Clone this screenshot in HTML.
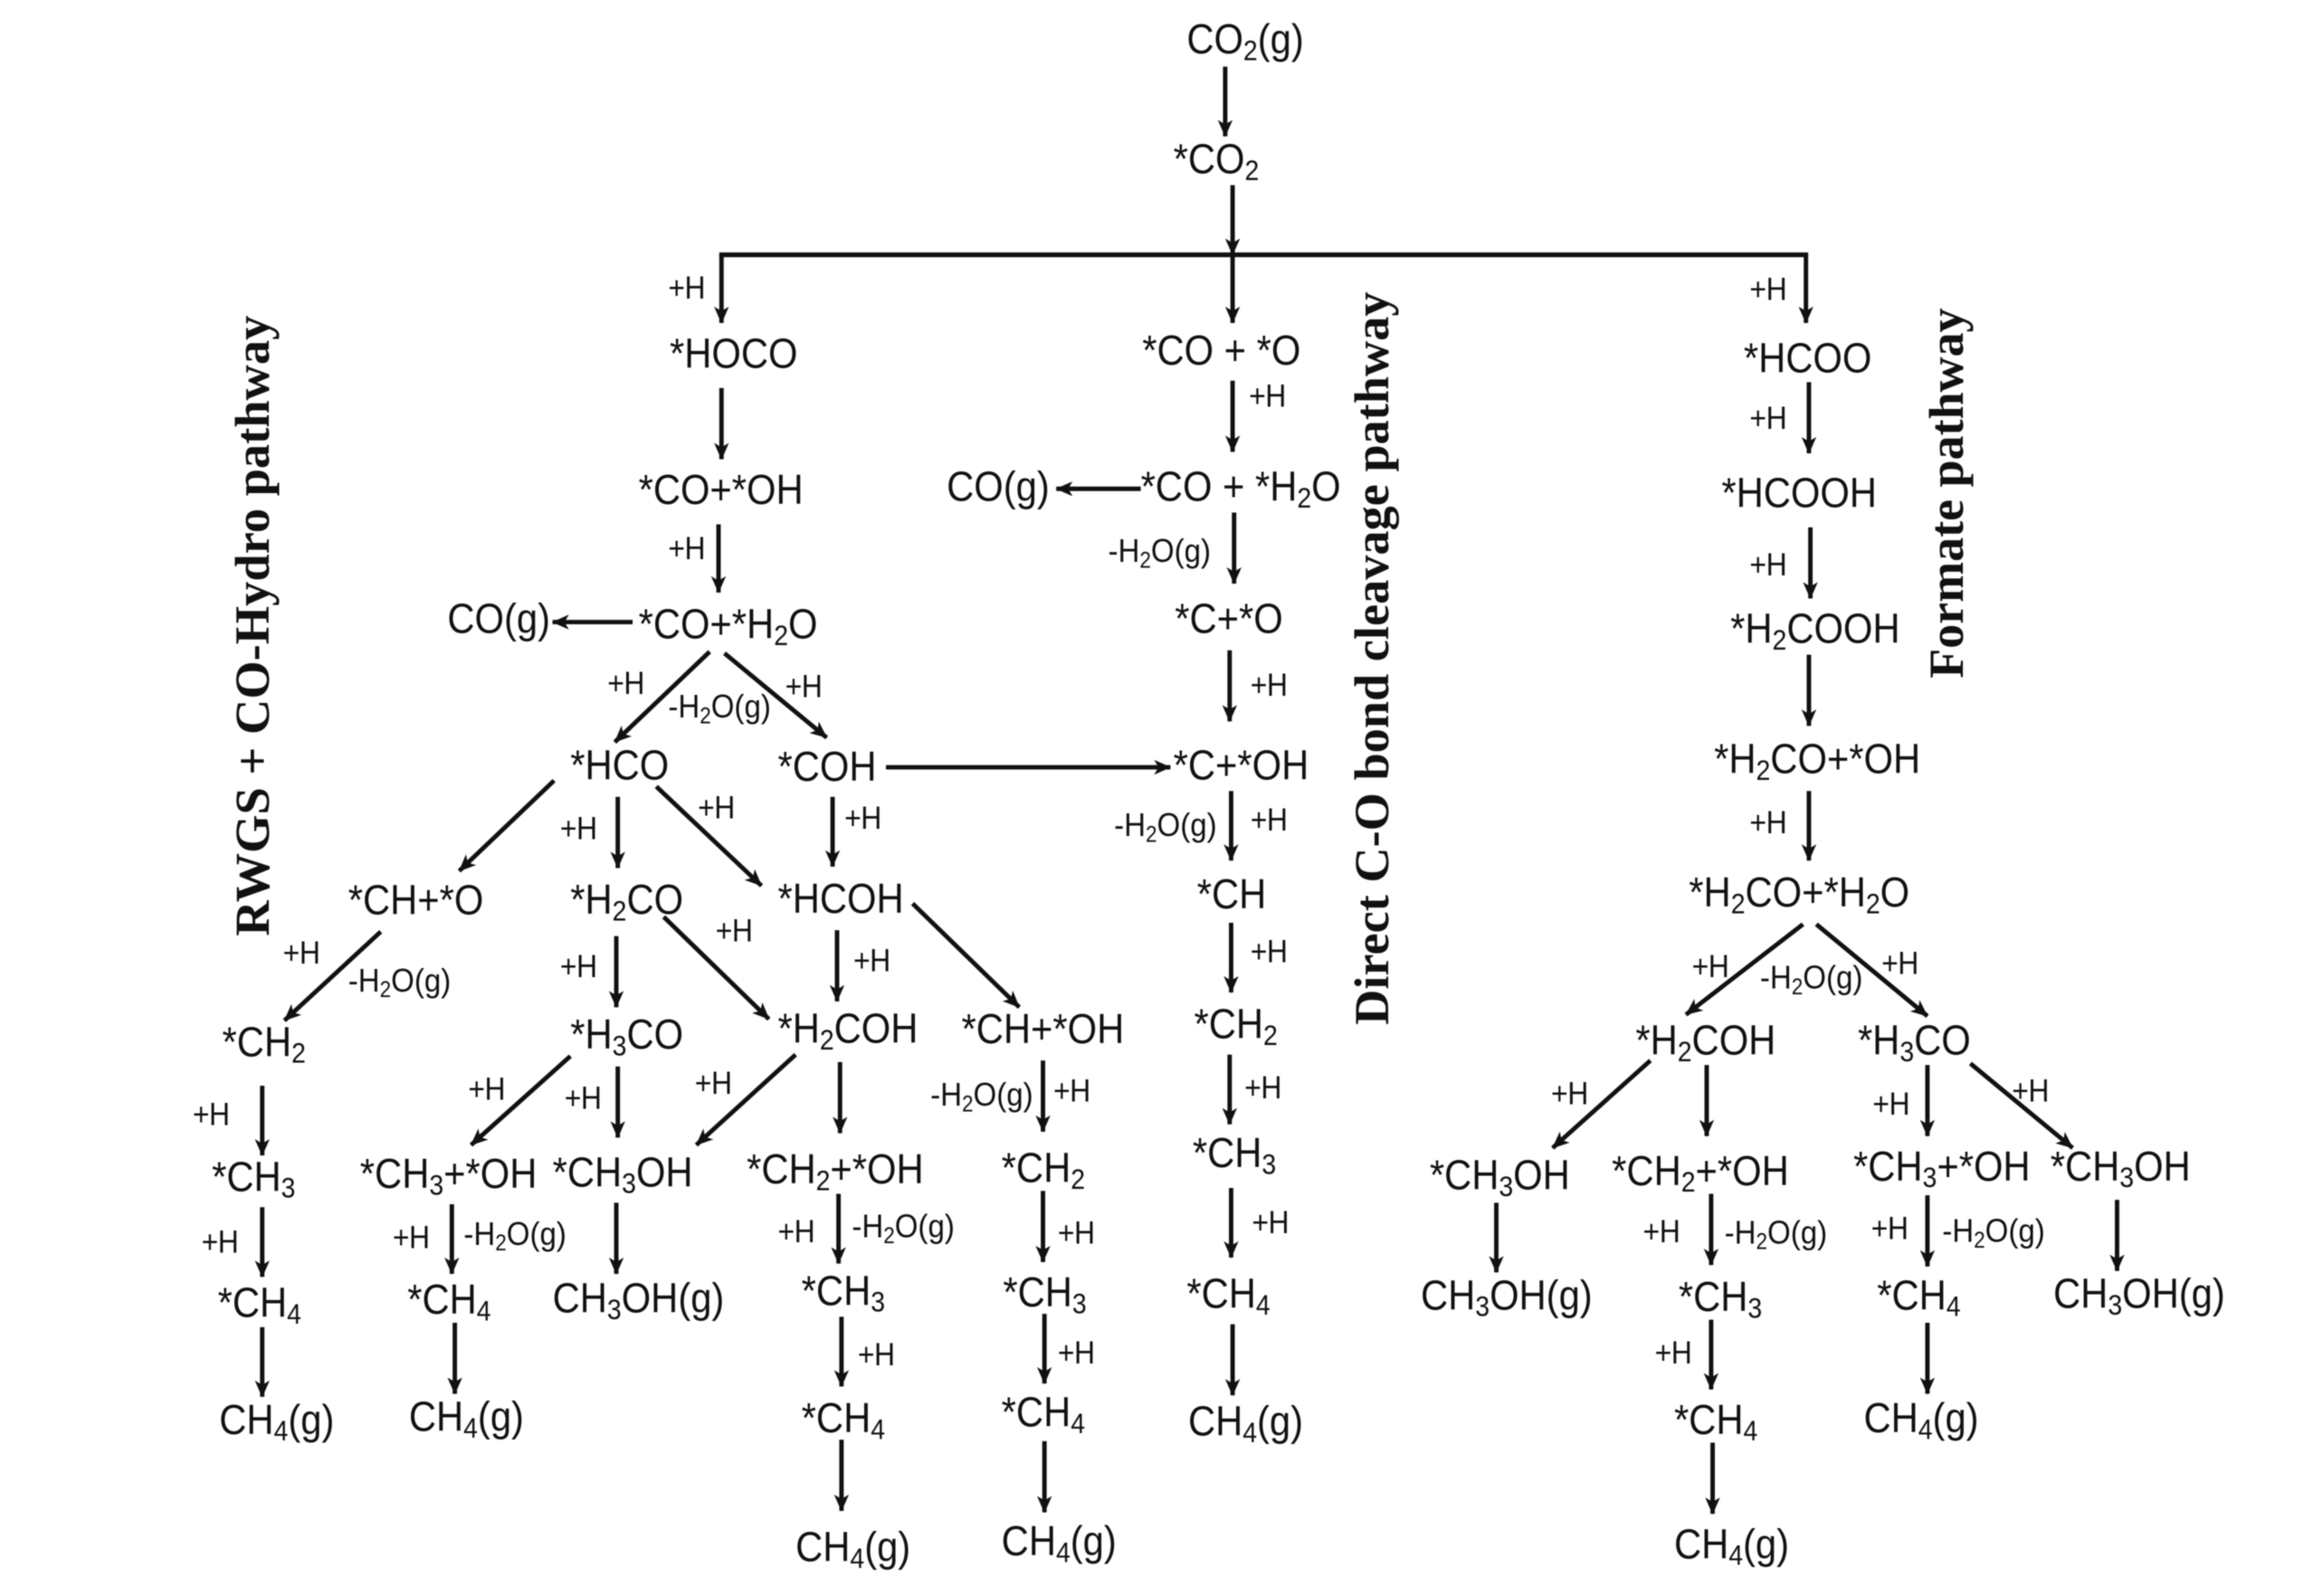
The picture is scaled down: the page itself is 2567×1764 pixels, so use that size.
<!DOCTYPE html>
<html><head><meta charset="utf-8"><style>
html,body{margin:0;padding:0;background:#fff}
svg{display:block;filter:blur(.6px)}
text{font-family:"Liberation Sans",Arial,sans-serif;fill:#111}
.m text{font-size:25.5px}
.p text{font-size:19.5px;letter-spacing:-.3px}
.m text{transform-box:fill-box;transform-origin:50% 78%;transform:translateY(.2px) scaleY(1.1)}
.p text{transform-box:fill-box;transform-origin:50% 78%;transform:translateY(.6px) scaleY(1.1)}
.p text.w{font-size:20.2px;letter-spacing:0}
.s{font-size:.68em;baseline-shift:-.24em}
.t{font-family:"Liberation Serif",serif;font-weight:bold;font-size:33px}
line{stroke:#111;stroke-width:3;fill:none;marker-end:url(#a)}
</style></head><body>
<svg xmlns="http://www.w3.org/2000/svg" width="2567" height="1764" viewBox="0 0 1568 1077.5">
<defs><marker id="a" markerUnits="userSpaceOnUse" markerWidth="24" markerHeight="24" refX="13.5" refY="12" orient="auto" overflow="visible"><path d="M2.5,7 L14,12 L2.5,17 L5.5,12Z" fill="#111"/></marker></defs>
<rect width="1568" height="1077.5" fill="#fff"/>
<g class="m">
<text x="801" y="36">CO<tspan class="s">2</tspan>(g)</text>
<text x="792" y="117">*CO<tspan class="s">2</tspan></text>
<text x="452" y="248">*HOCO</text>
<text x="431" y="340">*CO+*OH</text>
<text x="302" y="427">CO(g)</text>
<text x="431" y="431">*CO+*H<tspan class="s">2</tspan>O</text>
<text x="385" y="526">*HCO</text>
<text x="525" y="527">*COH</text>
<text x="235" y="617">*CH+*O</text>
<text x="385" y="617">*H<tspan class="s">2</tspan>CO</text>
<text x="525" y="616">*HCOH</text>
<text x="385" y="708">*H<tspan class="s">3</tspan>CO</text>
<text x="525" y="704">*H<tspan class="s">2</tspan>COH</text>
<text x="649" y="704">*CH+*OH</text>
<text x="150" y="713">*CH<tspan class="s">2</tspan></text>
<text x="143" y="804">*CH<tspan class="s">3</tspan></text>
<text x="147" y="889">*CH<tspan class="s">4</tspan></text>
<text x="148" y="968">CH<tspan class="s">4</tspan>(g)</text>
<text x="243" y="802">*CH<tspan class="s">3</tspan>+*OH</text>
<text x="373" y="801">*CH<tspan class="s">3</tspan>OH</text>
<text x="504" y="799">*CH<tspan class="s">2</tspan>+*OH</text>
<text x="676" y="798">*CH<tspan class="s">2</tspan></text>
<text x="275" y="887">*CH<tspan class="s">4</tspan></text>
<text x="373" y="886">CH<tspan class="s">3</tspan>OH(g)</text>
<text x="541" y="881">*CH<tspan class="s">3</tspan></text>
<text x="677" y="882">*CH<tspan class="s">3</tspan></text>
<text x="276" y="966">CH<tspan class="s">4</tspan>(g)</text>
<text x="541" y="967">*CH<tspan class="s">4</tspan></text>
<text x="676" y="963">*CH<tspan class="s">4</tspan></text>
<text x="537" y="1054">CH<tspan class="s">4</tspan>(g)</text>
<text x="676" y="1050">CH<tspan class="s">4</tspan>(g)</text>
<text x="771" y="246">*CO + *O</text>
<text x="770" y="338">*CO + *H<tspan class="s">2</tspan>O</text>
<text x="639" y="338">CO(g)</text>
<text x="793" y="427">*C+*O</text>
<text x="792" y="526">*C+*OH</text>
<text x="808" y="613">*CH</text>
<text x="806" y="701">*CH<tspan class="s">2</tspan></text>
<text x="805" y="788">*CH<tspan class="s">3</tspan></text>
<text x="801" y="883">*CH<tspan class="s">4</tspan></text>
<text x="802" y="969">CH<tspan class="s">4</tspan>(g)</text>
<text x="1177" y="251">*HCOO</text>
<text x="1162" y="342">*HCOOH</text>
<text x="1168" y="434">*H<tspan class="s">2</tspan>COOH</text>
<text x="1157" y="522">*H<tspan class="s">2</tspan>CO+*OH</text>
<text x="1140" y="612">*H<tspan class="s">2</tspan>CO+*H<tspan class="s">2</tspan>O</text>
<text x="1104" y="712">*H<tspan class="s">2</tspan>COH</text>
<text x="1254" y="712">*H<tspan class="s">3</tspan>CO</text>
<text x="965" y="803">*CH<tspan class="s">3</tspan>OH</text>
<text x="1088" y="800">*CH<tspan class="s">2</tspan>+*OH</text>
<text x="1251" y="797">*CH<tspan class="s">3</tspan>+*OH</text>
<text x="1384" y="797">*CH<tspan class="s">3</tspan>OH</text>
<text x="959" y="884">CH<tspan class="s">3</tspan>OH(g)</text>
<text x="1133" y="885">*CH<tspan class="s">3</tspan></text>
<text x="1267" y="884">*CH<tspan class="s">4</tspan></text>
<text x="1386" y="883">CH<tspan class="s">3</tspan>OH(g)</text>
<text x="1130" y="968">*CH<tspan class="s">4</tspan></text>
<text x="1258" y="967">CH<tspan class="s">4</tspan>(g)</text>
<text x="1130" y="1052">CH<tspan class="s">4</tspan>(g)</text>
</g>
<g class="p">
<text x="451" y="201">+H</text>
<text x="451" y="377">+H</text>
<text x="410" y="468">+H</text>
<text class="w" x="451" y="484">-H<tspan class="s">2</tspan>O(g)</text>
<text x="530" y="470">+H</text>
<text x="378" y="566">+H</text>
<text x="471" y="552">+H</text>
<text x="570" y="559">+H</text>
<text x="483" y="635">+H</text>
<text x="378" y="659">+H</text>
<text x="576" y="655">+H</text>
<text x="191" y="650">+H</text>
<text class="w" x="235" y="669">-H<tspan class="s">2</tspan>O(g)</text>
<text x="316" y="742">+H</text>
<text x="381" y="748">+H</text>
<text x="469" y="738">+H</text>
<text class="w" x="628" y="746">-H<tspan class="s">2</tspan>O(g)</text>
<text x="711" y="743">+H</text>
<text x="130" y="759">+H</text>
<text x="136" y="845">+H</text>
<text x="265" y="842">+H</text>
<text class="w" x="313" y="840">-H<tspan class="s">2</tspan>O(g)</text>
<text x="525" y="838">+H</text>
<text class="w" x="575" y="835">-H<tspan class="s">2</tspan>O(g)</text>
<text x="714" y="839">+H</text>
<text x="579" y="921">+H</text>
<text x="714" y="920">+H</text>
<text x="843" y="274">+H</text>
<text class="w" x="748" y="379">-H<tspan class="s">2</tspan>O(g)</text>
<text x="844" y="469">+H</text>
<text class="w" x="752" y="564">-H<tspan class="s">2</tspan>O(g)</text>
<text x="844" y="560">+H</text>
<text x="844" y="649">+H</text>
<text x="840" y="741">+H</text>
<text x="845" y="832">+H</text>
<text x="1181" y="202">+H</text>
<text x="1181" y="289">+H</text>
<text x="1181" y="388">+H</text>
<text x="1181" y="562">+H</text>
<text x="1142" y="659">+H</text>
<text class="w" x="1188" y="667">-H<tspan class="s">2</tspan>O(g)</text>
<text x="1270" y="657">+H</text>
<text x="1047" y="745">+H</text>
<text x="1358" y="743">+H</text>
<text x="1264" y="752">+H</text>
<text x="1109" y="838">+H</text>
<text class="w" x="1164" y="839">-H<tspan class="s">2</tspan>O(g)</text>
<text x="1263" y="836">+H</text>
<text class="w" x="1311" y="838">-H<tspan class="s">2</tspan>O(g)</text>
<text x="1117" y="920">+H</text>
</g>
<text class="t" transform="translate(181.5,632) rotate(-90)" textLength="419" lengthAdjust="spacingAndGlyphs">RWGS + CO-Hydro pathway</text>
<text class="t" transform="translate(937,692) rotate(-90)" textLength="495" lengthAdjust="spacingAndGlyphs">Direct C-O bond cleavage pathway</text>
<text class="t" transform="translate(1325,458) rotate(-90)" textLength="250" lengthAdjust="spacingAndGlyphs">Formate pathway</text>
<path d="M485.5,172H1220.5" fill="none" stroke="#111" stroke-width="3.2"/>
<line x1="827" y1="45" x2="827" y2="92"/>
<line x1="832" y1="125" x2="832" y2="172"/>
<line x1="487" y1="172" x2="487" y2="218"/>
<line x1="832" y1="172" x2="832" y2="218"/>
<line x1="1219" y1="172" x2="1219" y2="218"/>
<line x1="487" y1="262" x2="487" y2="310"/>
<line x1="485" y1="354" x2="485" y2="400"/>
<line x1="427" y1="420" x2="373" y2="420"/>
<line x1="479" y1="440" x2="415" y2="501"/>
<line x1="489" y1="441" x2="558" y2="498"/>
<line x1="374" y1="527" x2="310" y2="588"/>
<line x1="417" y1="538" x2="417" y2="586"/>
<line x1="443" y1="531" x2="514" y2="598"/>
<line x1="598" y1="518" x2="790" y2="518"/>
<line x1="562" y1="538" x2="562" y2="585"/>
<line x1="257" y1="629" x2="192" y2="689"/>
<line x1="416" y1="632" x2="416" y2="680"/>
<line x1="448" y1="619" x2="519" y2="688"/>
<line x1="565" y1="628" x2="565" y2="676"/>
<line x1="616" y1="610" x2="688" y2="680"/>
<line x1="385" y1="713" x2="318" y2="773"/>
<line x1="417" y1="720" x2="417" y2="768"/>
<line x1="537" y1="712" x2="470" y2="773"/>
<line x1="567" y1="717" x2="567" y2="765"/>
<line x1="704" y1="716" x2="704" y2="764"/>
<line x1="177" y1="733" x2="177" y2="780"/>
<line x1="177" y1="815" x2="177" y2="862"/>
<line x1="177" y1="896" x2="177" y2="943"/>
<line x1="305" y1="813" x2="305" y2="860"/>
<line x1="307" y1="893" x2="307" y2="941"/>
<line x1="416" y1="812" x2="416" y2="860"/>
<line x1="566" y1="806" x2="566" y2="853"/>
<line x1="568" y1="889" x2="568" y2="936"/>
<line x1="568" y1="972" x2="568" y2="1020"/>
<line x1="704" y1="804" x2="704" y2="852"/>
<line x1="705" y1="887" x2="705" y2="934"/>
<line x1="705" y1="973" x2="705" y2="1021"/>
<line x1="832" y1="257" x2="832" y2="305"/>
<line x1="770" y1="330" x2="713" y2="330"/>
<line x1="833" y1="346" x2="833" y2="394"/>
<line x1="830" y1="439" x2="830" y2="487"/>
<line x1="831" y1="534" x2="831" y2="581"/>
<line x1="831" y1="623" x2="831" y2="670"/>
<line x1="830" y1="712" x2="830" y2="759"/>
<line x1="831" y1="802" x2="831" y2="849"/>
<line x1="832" y1="894" x2="832" y2="942"/>
<line x1="1221" y1="258" x2="1221" y2="306"/>
<line x1="1222" y1="356" x2="1222" y2="404"/>
<line x1="1221" y1="442" x2="1221" y2="490"/>
<line x1="1221" y1="534" x2="1221" y2="581"/>
<line x1="1217" y1="624" x2="1138" y2="685"/>
<line x1="1226" y1="624" x2="1301" y2="686"/>
<line x1="1152" y1="719" x2="1152" y2="767"/>
<line x1="1114" y1="716" x2="1048" y2="775"/>
<line x1="1301" y1="719" x2="1301" y2="767"/>
<line x1="1330" y1="718" x2="1399" y2="775"/>
<line x1="1010" y1="812" x2="1010" y2="859"/>
<line x1="1155" y1="806" x2="1155" y2="854"/>
<line x1="1155" y1="891" x2="1155" y2="938"/>
<line x1="1156" y1="974" x2="1156" y2="1022"/>
<line x1="1301" y1="807" x2="1301" y2="855"/>
<line x1="1301" y1="893" x2="1301" y2="941"/>
<line x1="1429" y1="810" x2="1429" y2="858"/>
</svg>
</body></html>
